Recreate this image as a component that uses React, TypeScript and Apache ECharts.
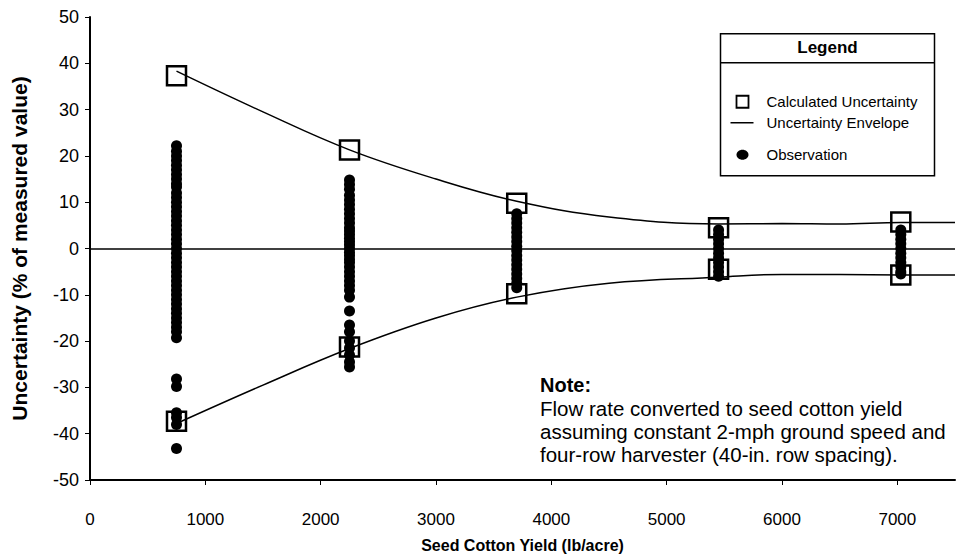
import React, { useEffect, useRef } from "react";
import * as echarts from "echarts";

const FONT = "'Liberation Sans', Arial, sans-serif";

const xTicks = [0, 1000, 2000, 3000, 4000, 5000, 6000, 7000];
const yieldLevels = [750, 2250, 3700, 5450, 7030];
const calcUpper = [37.3, 21.3, 9.8, 4.5, 5.7];
const calcLower = [-37.3, -21.3, -9.8, -4.5, -5.7];

const envelopeX = [750, 1500, 2250, 3000, 3700, 4500, 5450, 6000, 6500, 7030, 7500];
const envelopeUpper = [38.3, 29.5, 21.3, 15.0, 10.2, 6.8, 5.3, 5.4, 5.3, 5.6, 5.6];
const envelopeLower = [-37.8, -29.5, -21.6, -15.0, -10.5, -7.5, -6.2, -5.6, -5.6, -5.7, -5.7];

const obs750 = [22.2, 21, 20, 19, 18, 17, 16, 15, 14, 13.3, 12, 11, 10, 9, 8, 7, 6, 5, 4, 3, 2, 1, 0, -1, -2, -3, -4, -5, -6, -7, -8, -9, -10, -11, -12, -13, -14, -15, -16, -17, -18, -19.3, -28.2, -29.8, -35.5, -36.5, -38, -43.2];
const obs2250 = [14.8, 13.8, 12.8, 11.5, 10.5, 9.5, 8.5, 7.5, 6.5, 5.5, 4.5, 3.8, 3, 2.2, 1.5, 0.8, 0, -0.8, -1.5, -2.3, -3, -4, -5, -6, -7, -8, -9, -10.5, -13.5, -16.5, -18, -20, -21.5, -23, -24.5, -25.6];
const obs3700 = [7.5, 6.5, 5.5, 4.5, 3.5, 2.5, 1.5, 0.5, -0.5, -1.5, -2.5, -3.5, -4.5, -5.5, -6.5, -7.5, -8.5];
const obs5450 = [4, 3, 2, 1, 0, -1, -2, -3, -4, -5, -6];
const obs7030 = [4, 3, 2, 1, 0, -1, -2, -3, -4, -5, -5.5];

const noteLines = [
  "Flow rate converted to seed cotton yield",
  "assuming constant 2-mph ground speed and",
  "four-row harvester (40-in. row spacing).",
];

export default function App() {
  const ref = useRef<HTMLDivElement>(null);
  useEffect(() => {
    if (!ref.current) return;
    document.body.style.margin = "0";
    const chart = echarts.init(ref.current, null, { renderer: "svg" });
    const obsGroups = [obs750, obs2250, obs3700, obs5450, obs7030];
    const obsData: number[][] = [];
    obsGroups.forEach((g, i) => g.forEach((v) => obsData.push([yieldLevels[i], v])));
    const calcData: number[][] = [];
    yieldLevels.forEach((x, i) => {
      calcData.push([x, calcUpper[i]]);
      calcData.push([x, calcLower[i]]);
    });
    const tick = { fontFamily: FONT, fontSize: 17, color: "#000" };
    chart.setOption({
      animation: false,
      backgroundColor: "#fff",
      grid: { left: 90, right: 2, top: 17, bottom: 78, containLabel: false, outerBoundsMode: "none" },
      xAxis: {
        type: "value",
        min: 0,
        max: 7500,
        interval: 1000,
        name: "Seed Cotton Yield (lb/acre)",
        nameLocation: "middle",
        nameGap: 57,
        nameTextStyle: { fontFamily: FONT, fontSize: 16, fontWeight: "bold", color: "#000" },
        axisLine: { show: true, onZero: false, lineStyle: { color: "#000", width: 2 } },
        axisTick: { show: true, length: 5, lineStyle: { color: "#000" }, customValues: xTicks },
        axisLabel: { ...tick, margin: 31, customValues: xTicks, formatter: (v: number) => String(v) },
        splitLine: { show: false },
      },
      yAxis: {
        type: "value",
        min: -50,
        max: 50,
        interval: 10,
        name: "Uncertainty (% of measured value)",
        nameLocation: "middle",
        nameGap: 60,
        nameTextStyle: { fontFamily: FONT, fontSize: 21, fontWeight: "bold", color: "#000" },
        axisLine: { show: true, onZero: false, lineStyle: { color: "#000", width: 2 } },
        axisTick: { show: true, length: 5, lineStyle: { color: "#000" } },
        axisLabel: { ...tick, fontSize: 18, margin: 11, formatter: (v: number) => String(v) },
        splitLine: { show: false },
      },
      series: [
        {
          name: "Observation",
          type: "scatter",
          symbol: "circle",
          symbolSize: 11,
          itemStyle: { color: "#000", opacity: 1 },
          data: obsData,
          z: 2,
          markLine: {
            silent: true,
            symbol: "none",
            label: { show: false },
            lineStyle: { color: "#000", width: 1.5, type: "solid" },
            data: [{ yAxis: 0 }],
          },
        },
        {
          name: "Uncertainty Envelope",
          type: "line",
          smooth: 0.4,
          showSymbol: false,
          symbol: "none",
          lineStyle: { color: "#000", width: 1.5 },
          data: envelopeX.map((x, i) => [x, envelopeUpper[i]]),
          z: 3,
        },
        {
          name: "Uncertainty Envelope Lower",
          type: "line",
          smooth: 0.4,
          showSymbol: false,
          symbol: "none",
          lineStyle: { color: "#000", width: 1.5 },
          data: envelopeX.map((x, i) => [x, envelopeLower[i]]),
          z: 3,
        },
        {
          name: "Calculated Uncertainty",
          type: "scatter",
          symbol: "rect",
          symbolSize: 19,
          itemStyle: { color: "rgba(0,0,0,0)", borderColor: "#000", borderWidth: 2.5, opacity: 1 },
          data: calcData,
          z: 4,
        },
      ],
      graphic: [
        {
          type: "group",
          left: 718,
          top: 33,
          children: [
            { type: "rect", shape: { x: 0, y: 0, width: 214, height: 142 }, style: { fill: "#fff", stroke: "#000", lineWidth: 1.5 } },
            { type: "line", shape: { x1: 0, y1: 29, x2: 214, y2: 29 }, style: { stroke: "#000", lineWidth: 1.5 } },
            { type: "text", x: 107, y: 14, style: { text: "Legend", font: `bold 17px ${FONT}`, fill: "#000", align: "center", verticalAlign: "middle" } },
            { type: "rect", shape: { x: 16, y: 62, width: 12, height: 12 }, style: { fill: "none", stroke: "#000", lineWidth: 1.8 } },
            { type: "text", x: 46, y: 68, style: { text: "Calculated Uncertainty", font: `15px ${FONT}`, fill: "#000", verticalAlign: "middle" } },
            { type: "line", shape: { x1: 10, y1: 89, x2: 33, y2: 89 }, style: { stroke: "#000", lineWidth: 1.5 } },
            { type: "text", x: 46, y: 89, style: { text: "Uncertainty Envelope", font: `15px ${FONT}`, fill: "#000", verticalAlign: "middle" } },
            { type: "ellipse", shape: { cx: 22, cy: 121, rx: 6, ry: 5 }, style: { fill: "#000" } },
            { type: "text", x: 46, y: 121, style: { text: "Observation", font: `15px ${FONT}`, fill: "#000", verticalAlign: "middle" } },
          ],
        },
        {
          type: "group",
          left: 540,
          top: 375,
          children: [
            { type: "text", x: 0, y: 0, style: { text: "Note:", font: `bold 20px ${FONT}`, fill: "#000" } },
            ...noteLines.map((t, i) => ({
              type: "text",
              x: 0,
              y: 23 + i * 23,
              style: { text: t, font: `20.5px ${FONT}`, fill: "#000" },
            })),
          ],
        },
      ],
    });
    return () => chart.dispose();
  }, []);
  return <div ref={ref} style={{ width: 957, height: 558 }} />;
}
